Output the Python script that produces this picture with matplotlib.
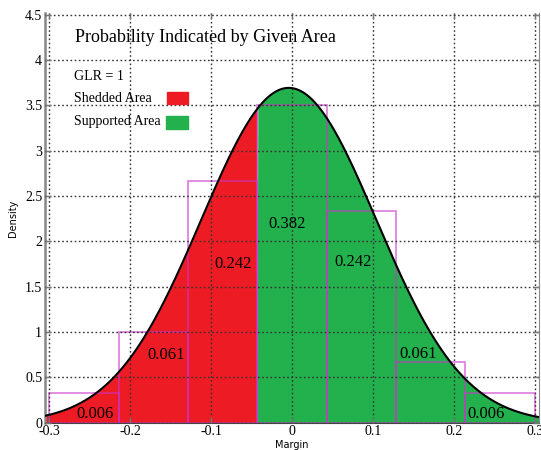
import numpy as np
import matplotlib.pyplot as plt
from matplotlib.patches import Rectangle

# values
bin_edges = [-0.3, -0.214, -0.129, -0.043, 0.043, 0.129, 0.214, 0.3]
bin_heights = [0.333, 1.0, 2.667, 3.5, 2.333, 0.667, 0.333]
area_probs = ["0.006", "0.061", "0.242", "0.382", "0.242", "0.061", "0.006"]
curve_mean = -0.004
curve_sd = 0.108
split_at = -0.043
glr = 1

plt.rcParams['font.family'] = ['Liberation Serif', 'DejaVu Serif']
plt.rcParams['axes.unicode_minus'] = False

RED = '#ed1c24'
GREEN = '#22b14c'

fig = plt.figure(figsize=(5.41, 4.5), dpi=100)
ax = fig.add_axes([45 / 541, 1 - 422.7 / 450, 494 / 541, 409.7 / 450])

xs = np.linspace(-0.305, 0.305, 600)
ys = np.exp(-0.5 * ((xs - curve_mean) / curve_sd) ** 2) / (curve_sd * np.sqrt(2 * np.pi))

ax.fill_between(xs, 0, ys, where=xs <= split_at + 1e-9, color=RED, lw=0, zorder=1, interpolate=True)
ax.fill_between(xs, 0, ys, where=xs >= split_at - 1e-9, color=GREEN, lw=0, zorder=1, interpolate=True)

widths = np.diff(bin_edges)
ax.bar(bin_edges[:-1], bin_heights, width=widths, align='edge', fill=False,
       edgecolor='#cc33cc', alpha=0.6, lw=1.3, zorder=2)

ax.plot(xs, ys, color='black', lw=1.5, zorder=3)

# probability labels for each region
label_x = [-0.243, -0.156, -0.073, -0.006, 0.075, 0.156, 0.24]
label_y = [0.1, 0.75, 1.75, 2.19, 1.77, 0.76, 0.1]
for tx, ty, s in zip(label_x, label_y, area_probs):
    ax.text(tx, ty, s, ha='center', va='center', fontsize=12, zorder=5)

ax.set_xlim(-0.305, 0.305)
ax.set_ylim(0, 4.52)
ax.set_xticks([-0.3, -0.2, -0.1, 0, 0.1, 0.2, 0.3])
ax.set_xticklabels(['-0.3', '-0.2', '-0.1', '0', '0.1', '0.2', '0.3'])
ax.set_yticks(np.arange(0, 4.51, 0.5))
ax.set_yticklabels(['0', '0.5', '1', '1.5', '2', '2.5', '3', '3.5', '4', '4.5'])

ax.grid(True, linestyle=(0, (1.2, 1.8)), color='#333333', lw=1.0, zorder=4)
ax.set_axisbelow(False)

ax.tick_params(direction='in', length=4, width=1, color='#777777', labelsize=10,
               pad=2, top=True, right=True)
ax.spines['top'].set_visible(False)
ax.spines['left'].set_color('#888888')
ax.spines['left'].set_linewidth(1.8)
ax.spines['right'].set_color('#888888')
ax.spines['bottom'].set_color('#444444')

ax.set_ylabel('Density', family='DejaVu Sans', fontsize=7, labelpad=5)
ax.set_xlabel('Margin', family='DejaVu Sans', fontsize=7, labelpad=1)

# title and legend block inside the axes
fig.text(75 / 541, 1 - 38 / 450, 'Probability Indicated by Given Area', fontsize=13,
         ha='left', va='center')
fig.text(74 / 541, 1 - 77 / 450, f'GLR = {glr}', fontsize=10, ha='left', va='center')
fig.text(74 / 541, 1 - 98 / 450, 'Shedded Area', fontsize=10, ha='left', va='center')
fig.text(74 / 541, 1 - 121 / 450, 'Supported Area', fontsize=10, ha='left', va='center')
fig.patches.append(Rectangle((167 / 541, 1 - 104 / 450), 21 / 541, 12 / 450,
                             transform=fig.transFigure, color=RED, figure=fig))
fig.patches.append(Rectangle((166 / 541, 1 - 129 / 450), 22 / 541, 13 / 450,
                             transform=fig.transFigure, color=GREEN, figure=fig))

plt.savefig('out.png', dpi=100)
plt.close()
